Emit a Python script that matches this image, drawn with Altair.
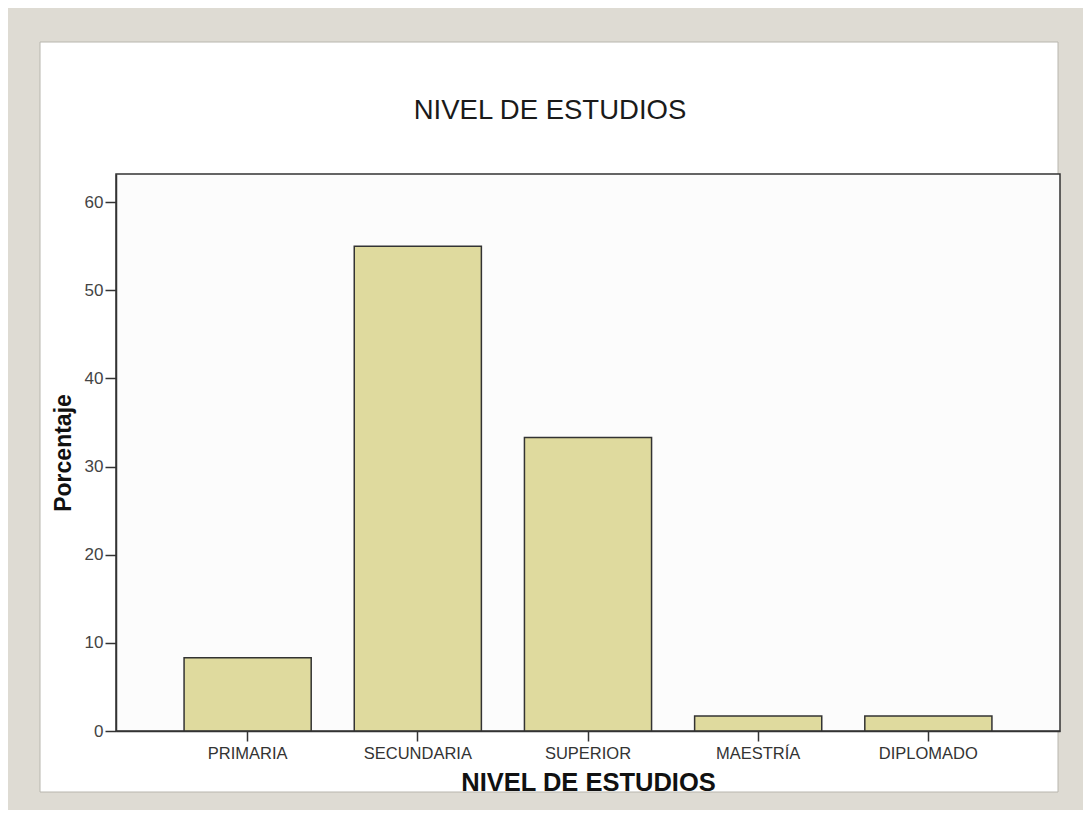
import altair as alt
import pandas as pd

categories = ["PRIMARIA", "SECUNDARIA", "SUPERIOR", "MAESTRÍA", "DIPLOMADO"]
percentages = [8.3, 55.0, 33.3, 1.7, 1.7]
y_ticks = [0, 10, 20, 30, 40, 50, 60]

df = pd.DataFrame({"nivel": categories, "pct": percentages})

FONT = "Liberation Sans"
W, H = 944, 557

deco = pd.DataFrame({"k": [0]})

# decorative white inner panel of the frame
panel = alt.Chart(deco).mark_rect(
    color="white", stroke="#b8b6ae", strokeWidth=1
).encode(
    x=alt.value(-76), x2=alt.value(W - 2),
    y=alt.value(-132), y2=alt.value(H + 61),
)

# plot-area frame
frame = alt.Chart(deco).mark_rect(
    fill="#fcfcfc", stroke="#333333", strokeWidth=1.5
).encode(
    x=alt.value(0), x2=alt.value(W),
    y=alt.value(0), y2=alt.value(H),
)

bars = alt.Chart(df).mark_bar(
    color="#dfda9e", stroke="#333333", strokeWidth=1.5
).encode(
    x=alt.X("nivel:N", sort=categories,
            scale=alt.Scale(paddingInner=0.253, paddingOuter=0.4),
            axis=alt.Axis(title="NIVEL DE ESTUDIOS", labelAngle=0, zindex=1,
                          labelFont=FONT, labelFontSize=16.5, labelColor="#333333",
                          labelPadding=4, tickSize=10, tickColor="#333333",
                          tickWidth=1.5, domainColor="#333333", domainWidth=1.5,
                          titleFont=FONT, titleFontSize=25.5, titleFontWeight="bold",
                          titleColor="#111111", titlePadding=9)),
    y=alt.Y("pct:Q", scale=alt.Scale(domain=[0, 63.2], nice=False, zero=True),
            axis=alt.Axis(title="Porcentaje", values=y_ticks, grid=False, zindex=1,
                          labelFont=FONT, labelFontSize=17, labelColor="#444444",
                          labelPadding=2, tickSize=11, tickColor="#333333",
                          tickWidth=1.5, domainColor="#333333", domainWidth=1.5,
                          titleFont=FONT, titleFontSize=23, titleFontWeight="bold",
                          titleColor="#111111", titlePadding=9)),
)

chart = alt.layer(panel, frame, bars).properties(
    width=W, height=H,
    padding={"left": 108, "top": 166, "right": 23, "bottom": 79},
    autosize=alt.AutoSizeParams(type="none"),
    background="#dedbd3",
    title=alt.TitleParams("NIVEL DE ESTUDIOS", font=FONT, fontSize=27.5,
                          fontWeight="normal", color="#1a1a1a",
                          anchor="middle", dx=-38, offset=-83),
).configure_view(stroke=None, fill=None)

chart.save("out.html", embed_options={"renderer": "svg", "actions": False})
